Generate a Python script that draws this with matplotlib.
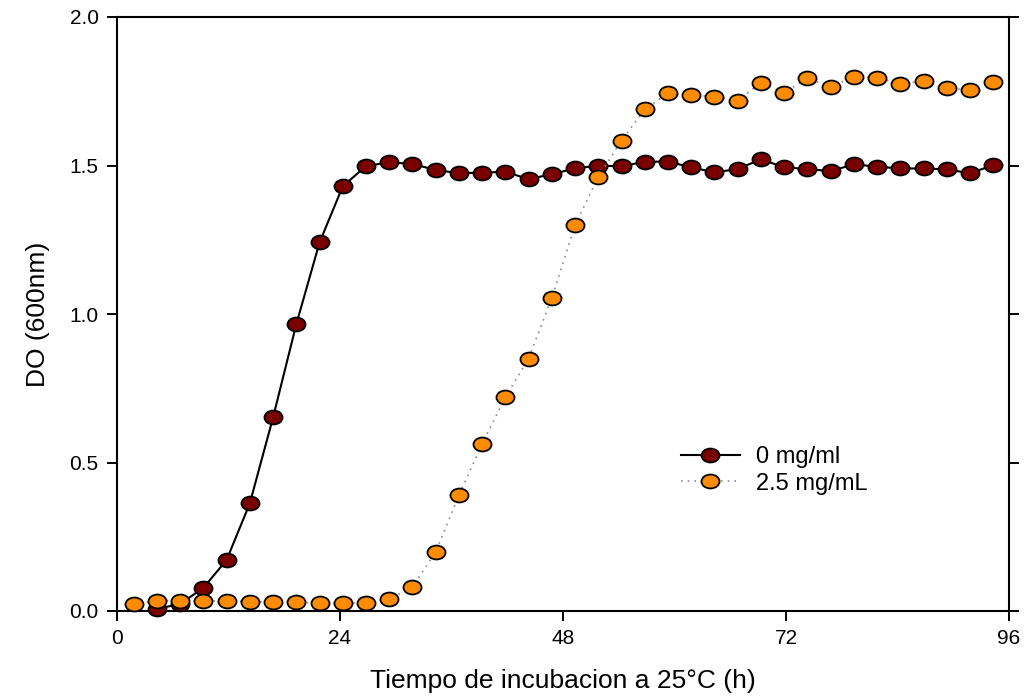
import numpy as np
import matplotlib
matplotlib.use("Agg")
import matplotlib.pyplot as plt
from matplotlib.path import Path
from matplotlib.transforms import Affine2D

plt.rcParams['font.family'] = ['Liberation Sans', 'DejaVu Sans']

# sampling times (h) and optical density readings
t_control = [4.3, 6.8, 9.3, 11.8, 14.3, 16.8, 19.3, 21.8, 24.3, 26.8,
             29.3, 31.8, 34.3, 36.8, 39.3, 41.8, 44.3, 46.8, 49.3, 51.8,
             54.3, 56.8, 59.3, 61.8, 64.3, 66.8, 69.3, 71.8, 74.3, 76.8,
             79.3, 81.8, 84.3, 86.8, 89.3, 91.8, 94.3]
do_control = [0.007, 0.024, 0.078, 0.172, 0.363, 0.652, 0.966, 1.241, 1.430, 1.498,
              1.511, 1.505, 1.485, 1.474, 1.476, 1.479, 1.454, 1.471, 1.490, 1.500,
              1.497, 1.513, 1.513, 1.494, 1.477, 1.488, 1.521, 1.494, 1.488, 1.481,
              1.504, 1.496, 1.490, 1.490, 1.487, 1.474, 1.501]

t_treat = [1.8] + t_control
do_treat = [0.022, 0.035, 0.035, 0.033, 0.035, 0.031, 0.031, 0.031, 0.026, 0.026,
            0.028, 0.039, 0.082, 0.198, 0.390, 0.563, 0.720, 0.850, 1.054, 1.300,
            1.462, 1.584, 1.689, 1.743, 1.737, 1.732, 1.718, 1.779, 1.745, 1.793,
            1.765, 1.799, 1.796, 1.774, 1.785, 1.760, 1.754, 1.781]

labels = ["0 mg/ml", "2.5 mg/mL"]
x_ticks = [0, 24, 48, 72, 96]
y_ticks = [0.0, 0.5, 1.0, 1.5, 2.0]

# slightly wide ellipse marker, like the original export
ellipse = Path.unit_circle().transformed(Affine2D().scale(1.3, 1.0))

fig = plt.figure(figsize=(10.28, 6.98), dpi=100)
ax = fig.add_axes([117 / 1028, 1 - 611 / 698, 892 / 1028, 594 / 698])

ax.plot(t_control, do_control, color='black', lw=1.5, marker=ellipse, ms=13,
        mfc='#7a0000', mec='black', mew=1.3, clip_on=False, zorder=3, label=labels[0])
ax.plot(t_treat, do_treat, color='#8c8c8c', lw=1.2, ls=(0, (1, 3)), marker=ellipse, ms=13,
        mfc='#ff8c00', mec='black', mew=1.3, clip_on=False, zorder=4, label=labels[1])

ax.set_xlim(0, 96)
ax.set_ylim(0, 2.0)
ax.set_xticks(x_ticks)
ax.set_xticklabels([str(v) for v in x_ticks])
ax.set_yticks(y_ticks)
ax.set_yticklabels([f"{v:.1f}" for v in y_ticks])

for s in ax.spines.values():
    s.set_linewidth(1.5)
ax.tick_params(axis='both', direction='out', length=7.2, width=1.4, labelsize=15, pad=6)
ax.tick_params(axis='y', right=True, left=True)
ax.tick_params(axis='x', top=False)

ax.set_xlabel("Tiempo de incubacion a 25°C (h)", fontsize=19, labelpad=15)
ax.set_ylabel("DO (600nm)", fontsize=19, labelpad=14)

ax.legend(loc='upper left', bbox_to_anchor=(0.632, 0.278), frameon=False, fontsize=17,
          borderpad=0, borderaxespad=0, handlelength=2.5, handletextpad=0.7,
          labelspacing=0.2)

fig.savefig("out.png", dpi=100)
